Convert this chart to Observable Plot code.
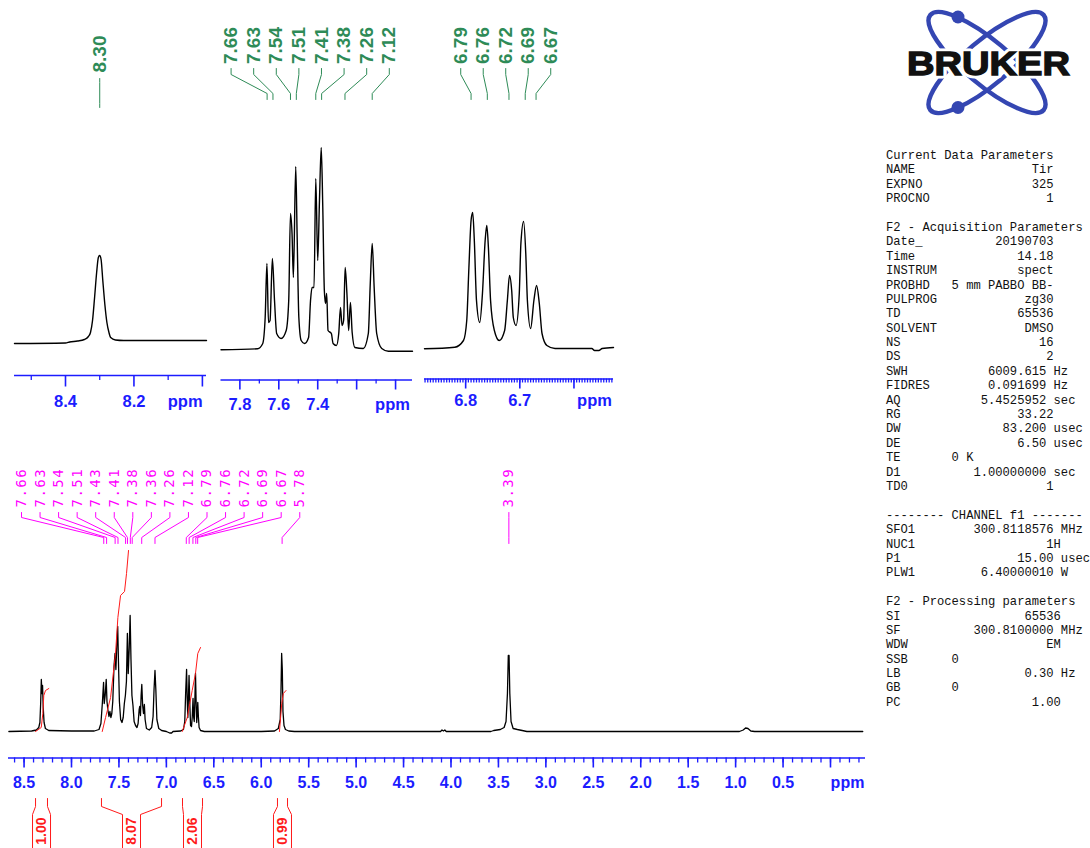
<!DOCTYPE html>
<html><head><meta charset="utf-8">
<script src="https://cdn.jsdelivr.net/npm/d3@7"></script>
<script src="https://cdn.jsdelivr.net/npm/@observablehq/plot@0.6"></script>
<style>
html,body{margin:0;padding:0;background:#fff;}
#page{position:relative;width:1090px;height:848px;overflow:hidden;background:#fff;}
#params{position:absolute;left:886px;top:149px;margin:0;font-family:"Liberation Mono","DejaVu Sans Mono",monospace;font-size:12.15px;line-height:14.39px;color:#111;white-space:pre;}
#logo{position:absolute;left:0;top:0;}
</style></head><body><div id="page"></div>
<script>
// ================= DATA =================
// Main 1H spectrum trace: [ppm, intensity]
const mainTrace = [[8.66,0],[8.42,0.5],[8.37,1.5],[8.345,4],[8.333,9],[8.325,28],[8.318,52],[8.311,38],[8.305,46],[8.298,24],[8.289,9],[8.275,3],[8.24,1],[8.0,0.5],[7.76,0.5],[7.71,2],[7.69,8],[7.675,28],[7.662,49],[7.655,28],[7.645,36],[7.634,52],[7.626,30],[7.617,22],[7.605,15],[7.595,20],[7.585,14],[7.575,18],[7.565,30],[7.552,65],[7.541,78],[7.532,62],[7.522,88],[7.513,105],[7.505,70],[7.495,30],[7.482,12],[7.468,9],[7.455,14],[7.443,28],[7.432,36],[7.421,50],[7.411,98],[7.402,58],[7.392,82],[7.382,116],[7.373,72],[7.363,36],[7.352,26],[7.340,10],[7.325,6],[7.31,4],[7.298,8],[7.287,22],[7.281,25],[7.273,16],[7.266,36],[7.259,47],[7.250,26],[7.241,18],[7.232,27],[7.224,12],[7.21,3],[7.18,1.5],[7.155,4],[7.14,15],[7.13,42],[7.12,61],[7.111,42],[7.10,12],[7.08,3],[7.05,1],[7.0,0],[6.965,-1.5],[6.945,-1.5],[6.93,0],[6.85,0.5],[6.82,2],[6.806,10],[6.797,38],[6.787,62],[6.781,35],[6.774,14],[6.767,35],[6.761,56],[6.753,28],[6.745,6],[6.735,5],[6.727,15],[6.719,33],[6.712,14],[6.706,10],[6.700,30],[6.693,58],[6.686,28],[6.680,9],[6.674,18],[6.669,29],[6.662,14],[6.655,4],[6.64,1],[6.60,0],[6.0,0],[5.86,0.5],[5.82,3],[5.80,12],[5.792,40],[5.785,78],[5.778,62],[5.771,20],[5.76,6],[5.745,2],[5.71,0.5],[5.65,0],[4.11,0],[4.095,1.5],[4.08,0.5],[4.065,1.5],[4.05,0],[3.58,0],[3.55,1],[3.48,2],[3.44,4],[3.42,10],[3.405,38],[3.396,76],[3.388,76],[3.38,38],[3.367,10],[3.345,3],[3.30,2],[3.25,1],[3.20,0],[0.96,0],[0.92,1.5],[0.895,3.5],[0.87,3],[0.84,0.5],[0.80,0],[-0.34,0]];

// Integral curves (cumulative, as drawn)
const integral1 = [[8.379,0],[8.319,4],[8.302,18],[8.292,36],[8.274,41],[8.239,43]];
const integral2 = [[7.676,0],[7.641,14],[7.588,34],[7.536,78],[7.511,114],[7.483,136],[7.441,140],[7.420,158],[7.399,181]];
const integral3 = [[6.833,0],[6.780,14],[6.753,28],[6.728,41],[6.693,58],[6.669,78],[6.640,84]];
const integral4 = [[5.808,0],[5.784,28],[5.767,38],[5.739,41]];
const integralFrom = [8.379, 7.684, 6.830, 5.829];
const integralTo = [8.253, 7.051, 6.619, 5.723];
const integralValues = ["1.00", "8.07", "2.06", "0.99"];

const mainPeakLabels = ["7.66","7.63","7.54","7.51","7.43","7.41","7.38","7.36","7.26","7.12","6.79","6.76","6.72","6.69","6.67","5.78","3.39"];
const mainTickLabels = ["8.5","8.0","7.5","7.0","6.5","6.0","5.5","5.0","4.5","4.0","3.5","3.0","2.5","2.0","1.5","1.0","0.5"];

// Inset 1 (8.30)
const inset1Trace = [[8.549,0],[8.400,0.5],[8.388,1.5],[8.365,2.5],[8.345,4],[8.333,7],[8.327,11],[8.321,23],[8.315,46],[8.309,71],[8.304,86],[8.300,88],[8.296,84],[8.291,63],[8.285,39],[8.279,21],[8.273,11],[8.268,6],[8.254,3.5],[8.230,3],[7.988,3]];
const inset1PeakLabels = ["8.30"];
const inset1TickLabels = ["8.4","8.2"];

// Inset 2 (7.7 - 7.1)
const inset2Trace = [[7.897,0.7],[7.709,1.7],[7.683,6.7],[7.670,33],[7.661,87],[7.653,28],[7.645,30],[7.633,92],[7.622,50],[7.611,17],[7.588,12],[7.562,20],[7.549,50],[7.540,137],[7.532,117],[7.525,73],[7.513,184],[7.506,117],[7.497,33],[7.485,10],[7.468,7],[7.447,13],[7.437,50],[7.429,63],[7.419,63],[7.410,172],[7.400,90],[7.391,150],[7.382,203],[7.374,143],[7.366,60],[7.360,47],[7.354,57],[7.347,20],[7.330,17],[7.321,7],[7.304,5],[7.292,17],[7.283,43],[7.275,25],[7.267,30],[7.259,83],[7.250,57],[7.241,20],[7.232,48],[7.223,18],[7.209,3],[7.166,2],[7.140,17],[7.130,67],[7.120,107],[7.110,63],[7.097,17],[7.071,2],[7.037,-0.7],[6.913,-0.7]];
const inset2PeakLabels = ["7.66","7.63","7.54","7.51","7.41","7.38","7.26","7.12"];
const inset2TickLabels = ["7.8","7.6","7.4"];

// Inset 3 (6.8 - 6.65)
const inset3Trace = [[6.876,-0.3],[6.820,1.3],[6.804,8],[6.798,28],[6.794,81],[6.790,128],[6.787,136],[6.784,108],[6.780,48],[6.774,26],[6.769,55],[6.764,108],[6.761,123],[6.758,101],[6.754,48],[6.747,18],[6.738,8],[6.728,18],[6.723,48],[6.719,73],[6.715,58],[6.712,31],[6.707,23],[6.701,55],[6.698,105],[6.693,127],[6.689,95],[6.686,48],[6.680,20],[6.674,48],[6.669,63],[6.664,45],[6.659,15],[6.650,3],[6.635,0],[6.567,0],[6.562,-2],[6.554,-2],[6.548,0],[6.527,1]];
const inset3PeakLabels = ["6.79","6.76","6.72","6.69","6.67"];
const inset3TickLabels = ["6.8","6.7"];

// Acquisition / processing parameter listing
const paramLines = [
"Current Data Parameters",
"NAME                Tir",
"EXPNO               325",
"PROCNO                1",
"",
"F2 - Acquisition Parameters",
"Date_          20190703",
"Time              14.18",
"INSTRUM           spect",
"PROBHD   5 mm PABBO BB-",
"PULPROG            zg30",
"TD                65536",
"SOLVENT            DMSO",
"NS                   16",
"DS                    2",
"SWH           6009.615 Hz",
"FIDRES        0.091699 Hz",
"AQ           5.4525952 sec",
"RG                33.22",
"DW              83.200 usec",
"DE                6.50 usec",
"TE       0 K",
"D1          1.00000000 sec",
"TD0                   1",
"",
"-------- CHANNEL f1 -------",
"SFO1        300.8118576 MHz",
"NUC1                  1H",
"P1                15.00 usec",
"PLW1         6.40000010 W",
"",
"F2 - Processing parameters",
"SI                 65536",
"SF          300.8100000 MHz",
"WDW                   EM",
"SSB      0",
"LB                 0.30 Hz",
"GB       0",
"PC                  1.00"
];

// ================= STYLE =================
const BLUE = "#1c1cff", GREEN = "#2e8b57", MAGENTA = "#ff00ff", RED = "#ff1a1a";
const SANS = "Liberation Sans, Arial, Helvetica, sans-serif";
const MONO = "DejaVu Sans Mono, Liberation Mono, monospace";
const page = document.getElementById("page");

function mkScales(xDomain, xRange, baseline) {
  const xo = {type: "linear", domain: xDomain, range: xRange, axis: null};
  const yo = {type: "linear", domain: [0, baseline], range: [baseline, 0], axis: null};
  const xs = Plot.scale({x: {type: "linear", domain: xDomain, range: xRange}});
  const ys = Plot.scale({y: {type: "linear", domain: [0, baseline], range: [baseline, 0]}});
  const inv = s => (typeof s.invert === "function") ? (v => s.invert(v)) :
    (v => { const [d0, d1] = s.domain, [r0, r1] = s.range; return d0 + (v - r0) * (d1 - d0) / (r1 - r0); });
  return {xo, yo, xpx: v => xs.apply(v), X: inv(xs), Y: inv(ys)};
}

function spread(px, spacing, lo, hi) {
  let clusters = px.map((p, i) => ({idx: [i], start: p}));
  const layout = c => {
    const m = d3.mean(c.idx, i => px[i]);
    let s = m - spacing * (c.idx.length - 1) / 2;
    const e = s + spacing * (c.idx.length - 1);
    if (e > hi) s -= e - hi;
    if (s < lo) s = lo;
    c.start = s;
  };
  clusters.forEach(layout);
  let changed = true;
  while (changed) {
    changed = false;
    for (let k = 0; k < clusters.length - 1; k++) {
      const a = clusters[k], b = clusters[k + 1];
      if (a.start + spacing * a.idx.length > b.start) {
        a.idx = a.idx.concat(b.idx); clusters.splice(k + 1, 1); layout(a); changed = true; break;
      }
    }
  }
  const out = [];
  clusters.forEach(c => c.idx.forEach((i, j) => out[i] = c.start + j * spacing));
  return out;
}

function buildPanel(cfg) {
  const {xo, yo, xpx, X, Y} = mkScales(cfg.xDomain, cfg.xRange, cfg.baseline);
  const marks = [];
  // axis
  marks.push(Plot.ruleY([Y(cfg.axisY)], {x1: cfg.xDomain[0], x2: cfg.xDomain[1], stroke: BLUE, strokeWidth: 1.7}));
  marks.push(Plot.ruleX(cfg.minorTicks, {x: d => d, y1: Y(cfg.axisY), y2: Y(cfg.axisY + cfg.minorLen), stroke: BLUE, strokeWidth: 1.3}));
  marks.push(Plot.ruleX(cfg.majorTicks, {x: d => d, y1: Y(cfg.axisY), y2: Y(cfg.axisY + cfg.majorLen), stroke: BLUE, strokeWidth: 1.6}));
  marks.push(Plot.text(cfg.tickLabels, {x: d => +d, y: Y(cfg.labelY), text: d => d, fill: BLUE, fontFamily: SANS, fontWeight: "bold", fontSize: cfg.labelSize}));
  marks.push(Plot.text(["ppm"], {x: X(cfg.ppmX), y: Y(cfg.labelY), text: d => d, fill: BLUE, fontFamily: SANS, fontWeight: "bold", fontSize: cfg.labelSize}));
  // spectrum
  marks.push(Plot.line(cfg.trace, {x: d => d[0], y: d => d[1], stroke: "#000", strokeWidth: cfg.lineWidth, curve: cfg.curve}));
  // peak labels + connectors
  const ppms = cfg.peakLabels.map(Number);
  const lpx = spread(ppms.map(xpx), cfg.spacing, cfg.lo, cfg.hi);
  const [c0, c1, c2, c3] = cfg.conn;
  const conn = [];
  ppms.forEach((p, i) => {
    conn.push({k: i, x: X(lpx[i]), y: Y(c0)}, {k: i, x: X(lpx[i]), y: Y(c1)}, {k: i, x: p, y: Y(c2)}, {k: i, x: p, y: Y(c3)});
  });
  marks.push(Plot.line(conn, {x: "x", y: "y", z: "k", stroke: cfg.peakColor, strokeWidth: 1}));
  marks.push(Plot.text(cfg.peakLabels, {x: (d, i) => X(lpx[i]), y: Y(cfg.textBottom), text: d => d, rotate: -90, textAnchor: "start",
    fill: cfg.peakColor, fontFamily: cfg.peakFont, fontSize: cfg.peakSize, fontWeight: cfg.peakWeight}));
  if (cfg.extra) marks.push(...cfg.extra({X, Y, xpx}));
  const svg = Plot.plot({
    width: 1090, height: 848, margin: 0, x: xo, y: yo,
    style: {position: "absolute", left: "0px", top: "0px", background: "none", overflow: "visible"},
    marks
  });
  if (cfg.letterSpacing) svg.querySelectorAll(`g[fill="${cfg.peakColor}"] text`).forEach(t => t.setAttribute("letter-spacing", cfg.letterSpacing));
  svg.style.position = "absolute"; svg.style.left = "0px"; svg.style.top = "0px"; svg.style.background = "none";
  page.appendChild(svg);
}

const rng = (a, b, step) => d3.range(Math.round(a / step), Math.round(b / step) + 1).map(i => +(i * step).toFixed(4));

// ---- main spectrum
buildPanel({
  xDomain: [8.664, -0.369], xRange: [8, 865], baseline: 731,
  axisY: 757.5, majorTicks: rng(0, 8.5, 0.5), minorTicks: rng(-0.3, 8.6, 0.1), majorLen: 10, minorLen: 5,
  tickLabels: mainTickLabels, labelY: 782.5, labelSize: 16, ppmX: 847,
  trace: mainTrace, lineWidth: 1.3, curve: "linear",
  peakLabels: mainPeakLabels, spacing: 18.55, lo: 21, hi: 843, conn: [512, 517, 537, 543], textBottom: 507,
  peakColor: MAGENTA, peakFont: MONO, peakSize: 14, peakWeight: "normal", letterSpacing: "1.5",
  extra: ({X, Y, xpx}) => {
    const ints = [integral1, integral2, integral3, integral4].flatMap((arr, k) => arr.map(d => ({k, x: d[0], y: d[1]})));
    const br = [];
    integralFrom.forEach((f, k) => {
      const t = integralTo[k];
      const mid = (xpx(f) + xpx(t)) / 2;
      br.push({k: 2 * k, x: f, y: Y(798)}, {k: 2 * k, x: f, y: Y(806)}, {k: 2 * k, x: X(mid - 9), y: Y(814)}, {k: 2 * k, x: X(mid - 9), y: Y(852)});
      br.push({k: 2 * k + 1, x: t, y: Y(798)}, {k: 2 * k + 1, x: t, y: Y(806)}, {k: 2 * k + 1, x: X(mid + 9), y: Y(814)}, {k: 2 * k + 1, x: X(mid + 9), y: Y(852)});
    });
    return [
      Plot.line(ints, {x: "x", y: "y", z: "k", stroke: RED, strokeWidth: 1}),
      Plot.line(br, {x: "x", y: "y", z: "k", stroke: RED, strokeWidth: 1}),
      Plot.text(integralValues, {x: (d, i) => X((xpx(integralFrom[i]) + xpx(integralTo[i])) / 2), y: Y(817), text: d => d, rotate: -90, textAnchor: "end",
        fill: RED, fontFamily: SANS, fontWeight: "bold", fontSize: 14})
    ];
  }
});

// ---- inset 1
buildPanel({
  xDomain: [8.549, 7.988], xRange: [14, 206], baseline: 343,
  axisY: 375, majorTicks: [8.4, 8.2, 8.0], minorTicks: [8.5, 8.3, 8.1], majorLen: 11.5, minorLen: 5,
  tickLabels: inset1TickLabels, labelY: 401, labelSize: 16.5, ppmX: 184.7,
  trace: inset1Trace, lineWidth: 1.4, curve: "monotone-x",
  peakLabels: inset1PeakLabels, spacing: 22.6, lo: 20, hi: 190, conn: [78, 82, 103, 107], textBottom: 72,
  peakColor: GREEN, peakFont: SANS, peakSize: 19, peakWeight: "bold"
});

// ---- inset 2
buildPanel({
  xDomain: [7.897, 6.913], xRange: [220.5, 412], baseline: 350,
  axisY: 379.5, majorTicks: [7.8, 7.6, 7.4, 7.2, 7.0], minorTicks: [7.7, 7.5, 7.3, 7.1], majorLen: 10, minorLen: 4,
  tickLabels: inset2TickLabels, labelY: 404.5, labelSize: 16.5, ppmX: 392,
  trace: inset2Trace, lineWidth: 1.4, curve: "monotone-x",
  peakLabels: inset2PeakLabels, spacing: 22.6, lo: 226, hi: 390, conn: [68, 74, 93, 99], textBottom: 63.5,
  peakColor: GREEN, peakFont: SANS, peakSize: 19, peakWeight: "bold"
});

// ---- inset 3
buildPanel({
  xDomain: [6.876, 6.527], xRange: [424, 613], baseline: 348,
  axisY: 378.5, majorTicks: [6.8, 6.7, 6.6], minorTicks: rng(6.53, 6.875, 0.005), majorLen: 10, minorLen: 4,
  tickLabels: inset3TickLabels, labelY: 400, labelSize: 16.5, ppmX: 594,
  trace: inset3Trace, lineWidth: 1.4, curve: "monotone-x",
  peakLabels: inset3PeakLabels, spacing: 22.5, lo: 430, hi: 591, conn: [68, 74, 93, 99], textBottom: 63.5,
  peakColor: GREEN, peakFont: SANS, peakSize: 19, peakWeight: "bold"
});

// ---- parameter listing
const pre = document.createElement("pre");
pre.id = "params";
pre.textContent = paramLines.join("\n");
page.appendChild(pre);

// ---- logo
const ns = "http://www.w3.org/2000/svg";
const logo = d3.create("svg").attr("id", "logo").attr("width", 1090).attr("height", 130).attr("xmlns", ns);
const LB = "#3446b2";
const g = logo.append("g").attr("transform", "translate(987,62.5)");
g.append("ellipse").attr("rx", 74).attr("ry", 22).attr("transform", "rotate(40)").attr("fill", "none").attr("stroke", LB).attr("stroke-width", 4.5);
g.append("ellipse").attr("rx", 74).attr("ry", 22).attr("transform", "rotate(-40)").attr("fill", "none").attr("stroke", LB).attr("stroke-width", 4.5);
logo.append("circle").attr("cx", 958).attr("cy", 17).attr("r", 6.5).attr("fill", LB);
logo.append("circle").attr("cx", 958).attr("cy", 107.5).attr("r", 6.5).attr("fill", LB);
logo.append("text").attr("x", 907).attr("y", 75).attr("textLength", 163).attr("lengthAdjust", "spacingAndGlyphs")
  .attr("font-family", SANS).attr("font-weight", "bold").attr("font-size", 32.5)
  .attr("fill", "#fff").attr("stroke", "#fff").attr("stroke-width", 7).attr("stroke-linejoin", "round").text("BRUKER");
logo.append("text").attr("x", 907).attr("y", 75).attr("textLength", 163).attr("lengthAdjust", "spacingAndGlyphs")
  .attr("font-family", SANS).attr("font-weight", "bold").attr("font-size", 32.5)
  .attr("fill", "#111").attr("stroke", "#111").attr("stroke-width", 1.3).text("BRUKER");
page.appendChild(logo.node());
</script></body></html>
